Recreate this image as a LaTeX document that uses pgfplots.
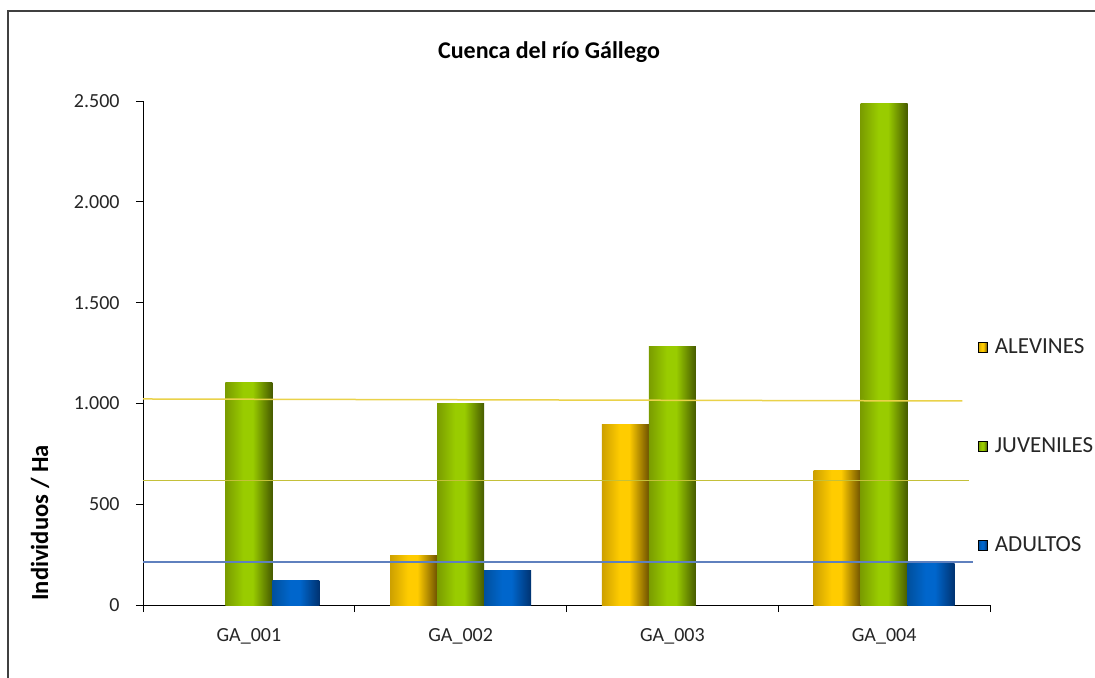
\documentclass[border=0pt]{standalone}
\usepackage{fontspec}
\setmainfont{Carlito}
\usepackage{pgfplots}
\pgfplotsset{compat=1.18}
\definecolor{goldL}{HTML}{CDA000}
\definecolor{goldM}{HTML}{FFCC00}
\definecolor{goldR}{HTML}{6E5200}
\definecolor{grnL}{HTML}{7A9C00}
\definecolor{grnM}{HTML}{99CC00}
\definecolor{grnR}{HTML}{465A00}
\definecolor{bluL}{HTML}{00509E}
\definecolor{bluM}{HTML}{0066CC}
\definecolor{bluR}{HTML}{003270}
\definecolor{lineY}{HTML}{EAD24A}
\definecolor{lineO}{HTML}{C4C03A}
\definecolor{lineB}{HTML}{5F80BE}
\pgfdeclarehorizontalshading{shgold}{100bp}{color(0bp)=(goldL); color(25bp)=(goldL); color(44bp)=(goldM); color(54bp)=(goldM); color(75bp)=(goldR); color(100bp)=(goldR)}
\pgfdeclarehorizontalshading{shgrn}{100bp}{color(0bp)=(grnL); color(25bp)=(grnL); color(44bp)=(grnM); color(54bp)=(grnM); color(75bp)=(grnR); color(100bp)=(grnR)}
\pgfdeclarehorizontalshading{shblu}{100bp}{color(0bp)=(bluL); color(25bp)=(bluL); color(44bp)=(bluM); color(54bp)=(bluM); color(75bp)=(bluR); color(100bp)=(bluR)}
\pgfplotsset{
  alev/.style={forget plot, ybar, bar width=0.222, bar shift=-0.222, draw=none, shade, shading=shgold},
  juv/.style={forget plot, ybar, bar width=0.222, bar shift=0, draw=none, shade, shading=shgrn},
  adu/.style={forget plot, ybar, bar width=0.222, bar shift=0.222, draw=none, shade, shading=shblu},
}
\begin{document}
\begin{tikzpicture}
\useasboundingbox (0,0) rectangle (547.5pt,338.5pt);
\fill[white] (0,0) rectangle (547.5pt,338.5pt);
\draw[line width=1pt, color=black!75] (4pt,-5pt) -- (4pt,333pt) -- (560pt,333pt);
\node[font=\fontsize{12}{14}\selectfont\bfseries] at (274.5pt,312.5pt) {Cuenca del río Gállego};
\begin{axis}[
  at={(71.5pt,36pt)}, anchor=south west,
  scale only axis, width=423.5pt, height=252pt,
  xmin=-0.5, xmax=3.5, ymin=0, ymax=2500,
  axis x line*=bottom, axis y line*=left,
  axis line style={-, black, line width=0.5pt},
  xtick={-0.5,0.5,1.5,2.5,3.5}, xticklabels={},
  extra x ticks={0,1,2,3},
  extra x tick labels={GA\_001,GA\_002,GA\_003,GA\_004},
  extra x tick style={major tick length=0pt, tick style={draw=none},
    tick label style={yshift=-8.2pt}},
  ytick={0,500,1000,1500,2000,2500},
  major tick length=3.5pt,
  tick align=outside,
  tick style={black, line width=0.5pt},
  /pgf/number format/1000 sep={.},
  /pgf/number format/assume math mode=true,
  tick label style={font=\fontsize{10}{12}\selectfont, black!85},
  yticklabel style={xshift=-4.7pt},
  every axis y label/.style={at={(axis description cs:-0.1216,0.1627)}, rotate=90, anchor=center, font=\fontsize{12.3}{14}\selectfont\bfseries},
  ylabel={Individuos / Ha},
  legend style={at={(axis description cs:0.985,0.315)}, anchor=west, draw=none, fill=none,
    font=\fontsize{11.5}{13}\selectfont, row sep=36.5pt, inner sep=0pt, text=black!85},
  legend cell align=left,
  clip=false,
]
\addlegendimage{legend image code/.code={\shade[shading=shgold] (0pt,-2.5pt) rectangle (4.6pt,2.5pt); \path[draw=none,fill=none] (0pt,-2.5pt) rectangle (6.4pt,2.5pt);}}
\addlegendentry{ALEVINES}
\addlegendimage{legend image code/.code={\shade[shading=shgrn] (0pt,-2.5pt) rectangle (4.6pt,2.5pt); \path[draw=none,fill=none] (0pt,-2.5pt) rectangle (6.4pt,2.5pt);}}
\addlegendentry{JUVENILES}
\addlegendimage{legend image code/.code={\shade[shading=shblu] (0pt,-2.5pt) rectangle (4.6pt,2.5pt); \path[draw=none,fill=none] (0pt,-2.5pt) rectangle (6.4pt,2.5pt);}}
\addlegendentry{ADULTOS}
% ALEVINES
\addplot[alev] coordinates {(1,245)};
\addplot[alev] coordinates {(2,895)};
\addplot[alev] coordinates {(3,665)};
% JUVENILES
\addplot[juv] coordinates {(0,1105)};
\addplot[juv] coordinates {(1,1000)};
\addplot[juv] coordinates {(2,1282)};
\addplot[juv] coordinates {(3,2490)};
% ADULTOS
\addplot[adu] coordinates {(0,120)};
\addplot[adu] coordinates {(1,170)};
\addplot[adu] coordinates {(3,208)};
% reference lines
\addplot[forget plot, color=lineY, line width=0.75pt] coordinates {(-0.5,1022) (3.37,1012)};
\addplot[forget plot, color=lineO, line width=0.75pt] coordinates {(-0.5,618) (3.40,618)};
\addplot[forget plot, color=lineB, line width=0.75pt] coordinates {(-0.5,213) (3.42,213)};
\end{axis}
\end{tikzpicture}
\end{document}
